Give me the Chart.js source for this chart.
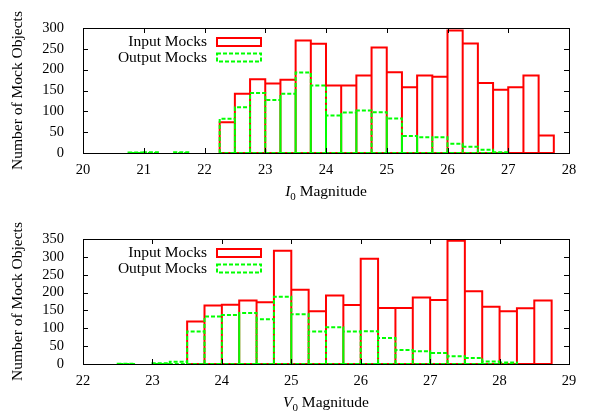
<!DOCTYPE html>
<html>
<head>
<meta charset="utf-8">
<script src="https://cdn.jsdelivr.net/npm/chart.js@4.4.0/dist/chart.umd.min.js"></script>
<style>
  html, body { margin: 0; padding: 0; background: #fff; }
  #wrap { position: relative; width: 595px; height: 416px; }
  .panel { position: absolute; left: 0; width: 595px; height: 208px; }
</style>
</head>
<body>
<div id="wrap">
  <div class="panel" style="top:0"><canvas id="chart-i"></canvas></div>
  <div class="panel" style="top:208px"><canvas id="chart-v"></canvas></div>
</div>
<script>
// Histogramas de magnitude (entrada x saída dos mocks), estilo gnuplot "boxes".
var BIN_WIDTH = 0.25;

// Painel de cima: I0
var iBins = [20.75, 21, 21.25, 21.5, 21.75, 22, 22.25, 22.5, 22.75, 23, 23.25, 23.5, 23.75, 24,
             24.25, 24.5, 24.75, 25, 25.25, 25.5, 25.75, 26, 26.25, 26.5, 26.75, 27, 27.25, 27.5];
var iInput = [0, 0, 0, 0, 0, 0, 74, 142, 177, 167, 176, 270, 262, 162,
              162, 186, 253, 194, 158, 186, 183, 294, 263, 168, 152, 158, 186, 42];
var iOutput = [1, 2, 0, 2, 0, 0, 82, 110, 144, 127, 142, 193, 162, 90,
               97, 102, 98, 83, 41, 38, 38, 22, 15, 8, 2, 0, 0, 0];

// Painel de baixo: V0
var vBins = [22.5, 22.75, 23, 23.25, 23.5, 23.75, 24, 24.25, 24.5, 24.75, 25, 25.25, 25.5,
             25.75, 26, 26.25, 26.5, 26.75, 27, 27.25, 27.5, 27.75, 28, 28.25, 28.5];
var vInput = [0, 0, 0, 0, 119, 164, 166, 178, 173, 317, 208, 148, 192,
              165, 295, 157, 157, 186, 179, 345, 204, 160, 148, 156, 178];
var vOutput = [1, 0, 2, 6, 91, 133, 137, 143, 125, 188, 139, 91, 103,
               91, 92, 73, 39, 36, 31, 22, 17, 7, 4, 0, 0];

var SERIES_LABELS = ["Input Mocks", "Output Mocks"];
var Y_TITLE = "Number of Mock Objects";

var RED = "#ff0000";
var GREEN = "#00ff00";
var FONT = "'Liberation Serif', 'Times New Roman', serif";
var TICK_SIZE = 14.5;
var TEXT_SIZE = 15.5;
var TICK = 5;

// cada caixa vira um retângulo fechado; ponto com y null quebra a linha
function boxPoints(bins, values) {
  var pts = [];
  bins.forEach(function (lo, i) {
    var v = values[i];
    if (!v) return;
    var hi = lo + BIN_WIDTH;
    pts.push({ x: lo, y: 0 }, { x: lo, y: v }, { x: hi, y: v }, { x: hi, y: 0 }, { x: lo, y: 0 }, { x: lo, y: null });
  });
  return pts;
}

var framePlugin = {
  id: "frame",
  afterDatasetsDraw: function (chart) {
    var a = chart.chartArea, ctx = chart.ctx;
    var xs = chart.scales.x, ys = chart.scales.y;
    ctx.save();
    ctx.strokeStyle = "#000";
    ctx.lineWidth = 1;
    ctx.beginPath();
    xs.ticks.forEach(function (t) {
      var px = Math.round(xs.getPixelForValue(t.value)) + 0.5;
      ctx.moveTo(px, a.bottom); ctx.lineTo(px, a.bottom - TICK);
      ctx.moveTo(px, a.top); ctx.lineTo(px, a.top + TICK);
    });
    ys.ticks.forEach(function (t) {
      var py = Math.round(ys.getPixelForValue(t.value)) + 0.5;
      ctx.moveTo(a.left, py); ctx.lineTo(a.left + TICK, py);
      ctx.moveTo(a.right, py); ctx.lineTo(a.right - TICK, py);
    });
    ctx.stroke();
    ctx.strokeRect(a.left + 0.5, a.top + 0.5, a.right - a.left, a.bottom - a.top);
    ctx.restore();
  }
};

var legendPlugin = {
  id: "boxLegend",
  afterDraw: function (chart) {
    var a = chart.chartArea, ctx = chart.ctx;
    ctx.save();
    ctx.font = TEXT_SIZE + "px " + FONT;
    ctx.textAlign = "right";
    ctx.textBaseline = "middle";
    chart.data.datasets.forEach(function (ds, i) {
      var cy = a.top + 14 + i * 15.5;
      ctx.fillStyle = "#000";
      ctx.fillText(ds.label, a.left + 124, cy);
      ctx.strokeStyle = ds.borderColor;
      ctx.lineWidth = 2;
      ctx.setLineDash(ds.borderDash || []);
      ctx.strokeRect(a.left + 134, cy - 4, 44, 8);
    });
    ctx.restore();
  }
};

// título do eixo x: letra em itálico + índice 0 + " Magnitude"
var xTitlePlugin = {
  id: "xTitle",
  afterDraw: function (chart, args, opts) {
    var a = chart.chartArea, ctx = chart.ctx;
    var cx = (a.left + a.right) / 2, base = a.bottom + 43;
    ctx.save();
    ctx.fillStyle = "#000";
    ctx.textBaseline = "alphabetic";
    ctx.textAlign = "left";
    var f1 = "italic " + TEXT_SIZE + "px " + FONT;
    var f2 = "11px " + FONT;
    var f3 = TEXT_SIZE + "px " + FONT;
    ctx.font = f1; var w1 = ctx.measureText(opts.letter).width;
    ctx.font = f2; var w2 = ctx.measureText("0").width;
    ctx.font = f3; var w3 = ctx.measureText(" Magnitude").width;
    var x = cx - (w1 + w2 + w3) / 2;
    ctx.font = f1; ctx.fillText(opts.letter, x, base);
    ctx.font = f2; ctx.fillText("0", x + w1, base + 4);
    ctx.font = f3; ctx.fillText(" Magnitude", x + w1 + w2, base);
    ctx.restore();
  }
};

function histChart(canvasId, bins, input, output, xMin, xMax, yMax, letter, padTop, axisH) {
  var canvas = document.getElementById(canvasId);
  new Chart(canvas, {
    type: "line",
    data: {
      datasets: [
        {
          label: SERIES_LABELS[0],
          data: boxPoints(bins, input),
          borderColor: RED,
          borderWidth: 2,
          pointRadius: 0,
          tension: 0,
          spanGaps: false,
          fill: false,
          clip: false,
          order: 1,
        },
        {
          label: SERIES_LABELS[1],
          data: boxPoints(bins, output),
          borderColor: GREEN,
          borderWidth: 2,
          borderDash: [4, 2],
          pointRadius: 0,
          tension: 0,
          spanGaps: false,
          fill: false,
          clip: false,
          order: 0,
        },
      ],
    },
    options: {
      responsive: true,
      maintainAspectRatio: false,
      animation: false,
      events: [],
      layout: { padding: { left: 0, right: 26, top: padTop, bottom: 0 } },
      scales: {
        x: {
          type: "linear",
          min: xMin,
          max: xMax,
          grid: { display: false },
          border: { display: false },
          ticks: { stepSize: 1, color: "#000", padding: 0, maxRotation: 0, autoSkip: false, font: { family: FONT, size: TICK_SIZE } },
          afterFit: function (s) { s.height = axisH; },
        },
        y: {
          min: 0,
          max: yMax,
          grid: { display: false },
          border: { display: false },
          ticks: { stepSize: 50, color: "#000", padding: 11, autoSkip: false, font: { family: FONT, size: TICK_SIZE } },
          title: {
            display: true,
            text: Y_TITLE,
            color: "#000",
            padding: { top: 9, bottom: 0 },
            font: { family: FONT, size: TEXT_SIZE },
          },
          afterFit: function (s) { s.width = 83; },
        },
      },
      plugins: {
        legend: { display: false },
        tooltip: { enabled: false },
        xTitle: { letter: letter },
      },
    },
    plugins: [framePlugin, legendPlugin, xTitlePlugin],
  });
}

histChart("chart-i", iBins, iInput, iOutput, 20, 28, 300, "I", 28, 55);
histChart("chart-v", vBins, vInput, vOutput, 22, 29, 350, "V", 31, 52);
</script>
</body>
</html>
